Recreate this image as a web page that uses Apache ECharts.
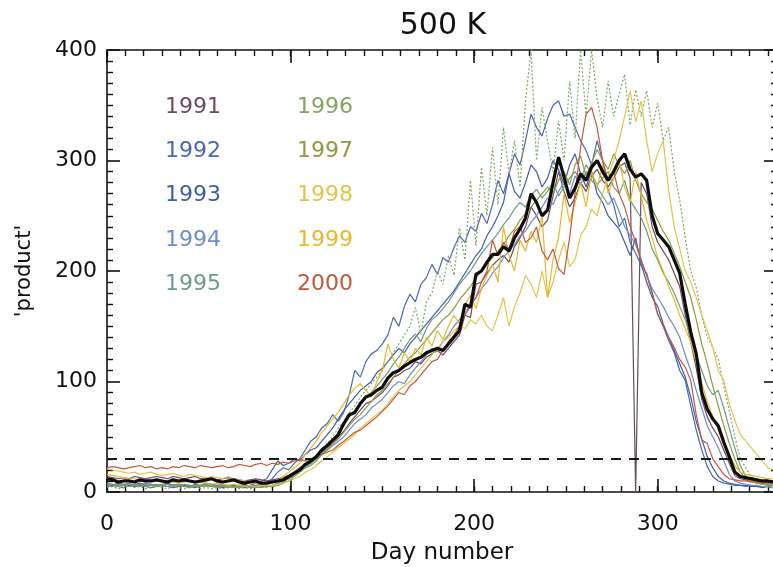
<!DOCTYPE html>
<html>
<head>
<meta charset="utf-8">
<script src="https://cdn.jsdelivr.net/npm/echarts@6/dist/echarts.min.js"></script>
<style>
  html, body { margin: 0; padding: 0; background: #ffffff; }
  #chart { width: 773px; height: 567px; }
</style>
</head>
<body>
<div id="chart"></div>
<script>
// Daily product at the 500 K level, one curve per year, sampled every 3 days (day 0 .. 363)
const years = ['1991', '1992', '1993', '1994', '1995', '1996', '1997', '1998', '1999', '2000'];
const yearColors = ['#6e4a5e', '#4a67b0', '#3d5ea8', '#6f8dca', '#6e9c82',
                    '#7fa660', '#8c9c3e', '#e2c44c', '#e6b82a', '#c6573a'];
const dayStep = 3;

const v1991 = [
  14,13,12,13,12,14,13,12,13,14,
  13,12,14,13,12,13,14,12,13,12,
  11,12,13,12,11,10,11,12,11,10,
  11,12,13,15,18,22,24,27,30,36,
  40,44,50,55,62,68,74,80,82,86,
  90,96,104,106,110,112,118,116,122,125,
  128,124,130,136,142,160,158,188,190,198,
  205,210,214,208,222,230,240,258,250,240,
  246,268,290,272,258,266,280,272,286,292,
  282,276,284,294,298,284,0,280,270,240,
  226,218,210,198,186,160,136,112,84,68,
  58,50,38,26,15,12,11,10,10,9,
  9,8];
const v1992 = [
  7,6,8,7,6,7,8,6,7,6,
  7,8,6,7,6,5,7,6,8,7,
  6,7,6,5,6,7,5,6,7,8,
  12,18,22,20,26,30,38,46,50,58,
  62,70,64,72,88,110,104,118,125,128,
  134,142,158,150,168,179,172,188,194,206,
  197,212,208,221,232,226,240,236,252,243,
  260,282,270,288,306,296,318,342,330,322,
  338,350,354,340,342,330,318,309,296,318,
  300,273,260,240,248,226,216,205,198,180,
  161,150,137,126,110,101,78,56,38,23,
  14,10,8,7,6,6,5,6,5,5,
  5,4];
const v1993 = [
  5,6,5,4,6,5,6,5,4,5,
  6,5,4,5,6,5,4,5,6,5,
  5,4,5,6,5,4,6,8,10,12,
  20,28,24,26,30,28,34,38,40,46,
  52,58,66,74,80,86,92,96,100,108,
  112,118,124,130,126,134,140,146,152,158,
  164,170,176,182,190,198,206,214,220,232,
  240,250,262,288,272,266,280,296,290,276,
  284,300,292,278,296,306,288,276,290,270,
  262,250,244,238,226,214,230,206,190,176,
  168,152,140,128,116,104,86,64,48,32,
  22,14,10,8,7,6,6,5,5,4,
  5,4];
const v1994 = [
  8,7,6,7,8,6,7,8,7,6,
  6,7,5,6,7,6,5,6,5,6,
  5,6,4,5,6,5,4,5,6,5,
  6,8,10,12,16,18,22,26,30,34,
  38,42,46,50,56,62,66,70,76,80,
  84,90,96,100,98,106,112,118,124,130,
  128,136,142,150,156,162,170,176,184,190,
  198,204,212,218,224,232,236,244,250,258,
  266,260,272,280,270,286,278,290,282,276,
  268,260,266,254,240,232,224,210,196,184,
  176,168,158,150,140,124,110,92,76,60,
  50,40,28,16,10,8,7,6,6,5,
  5,4];
const v1995 = [
  6,5,7,6,5,6,7,5,6,7,
  6,5,6,7,5,6,5,6,7,6,
  5,6,5,4,5,6,5,4,5,6,
  5,6,8,10,14,18,22,24,28,34,
  40,46,54,60,68,74,80,86,90,96,
  102,108,116,122,130,138,143,136,148,156,
  160,166,172,180,188,194,200,208,216,222,
  228,234,242,248,256,262,258,268,274,266,
  272,280,268,276,284,290,282,296,288,278,
  284,290,276,270,282,264,256,248,236,220,
  210,198,190,180,168,156,140,124,110,96,
  88,92,76,58,40,24,14,10,8,7,
  6,6];
const v1996 = [
  4,5,3,4,6,4,5,3,4,5,
  4,3,5,4,3,4,5,3,4,3,
  4,3,4,5,3,4,3,4,5,4,
  5,6,9,12,14,18,22,26,30,36,
  44,50,58,64,72,78,86,92,98,104,
  110,118,126,134,142,150,167,143,172,180,
  200,188,214,196,239,210,282,223,294,250,
  312,260,330,288,318,276,354,400,300,348,
  318,290,336,300,372,320,400,340,400,356,
  330,372,340,360,378,332,364,340,363,330,
  352,318,330,290,264,230,200,185,160,140,
  131,120,96,74,50,30,22,14,10,8,
  7,6];
const v1997 = [
  6,7,5,6,7,6,5,7,6,5,
  6,5,7,6,5,4,6,5,6,5,
  4,5,6,5,4,5,6,5,4,5,
  6,7,9,12,15,20,24,26,30,34,
  38,44,48,54,60,66,70,76,82,88,
  92,98,104,110,116,122,126,132,138,144,
  150,156,160,166,174,180,186,194,200,206,
  212,218,224,232,238,246,252,258,264,270,
  276,270,282,290,278,296,304,286,298,310,
  300,292,306,296,288,300,282,270,262,256,
  246,236,228,216,204,190,176,156,134,116,
  96,78,60,44,30,18,12,10,8,7,
  7,6];
const v1998 = [
  21,20,19,18,17,18,16,17,18,16,
  15,16,17,15,14,16,15,14,13,14,
  13,12,14,12,11,10,9,8,7,6,
  6,7,8,10,12,14,18,20,24,28,
  32,36,40,44,48,52,58,62,66,70,
  74,80,86,92,96,100,106,112,118,124,
  130,136,140,146,150,148,156,152,160,150,
  146,160,176,150,168,180,196,188,176,200,
  176,190,210,226,204,210,232,240,256,250,
  270,286,300,318,340,363,335,354,318,290,
  306,318,273,240,220,200,190,176,160,146,
  131,110,101,80,65,52,46,40,34,28,
  22,20];
const v1999 = [
  16,15,14,13,12,12,11,10,11,10,
  9,10,9,8,9,10,8,9,8,7,
  8,7,6,7,6,5,6,5,6,7,
  8,10,14,18,22,26,34,40,46,54,
  60,66,72,80,88,94,98,92,86,100,
  110,134,120,112,126,118,130,124,140,132,
  146,138,150,160,152,170,178,166,184,196,
  206,190,240,214,200,228,218,236,226,250,
  176,210,230,270,244,262,280,258,290,276,
  296,270,284,300,276,262,290,268,246,230,
  212,200,186,174,160,148,136,118,98,82,
  68,56,46,34,24,18,16,15,14,13,
  12,12];
const v2000 = [
  22,23,22,21,22,23,24,22,23,21,
  22,21,23,22,24,23,22,24,23,22,
  23,24,22,23,25,24,23,25,26,24,
  26,25,27,26,28,30,28,30,32,34,
  36,38,42,46,50,54,56,60,64,68,
  73,78,84,90,88,96,100,106,112,118,
  120,128,136,142,150,160,168,176,190,200,
  228,214,226,220,236,240,226,230,240,218,
  210,220,202,197,230,270,312,342,348,330,
  300,282,290,270,258,240,226,210,196,180,
  161,150,140,131,120,113,101,70,47,44,
  30,23,16,12,11,10,10,9,9,8,
  8,8];

// Ten-year mean (heavy black curve)
const meanProduct = [
  12,11,9,10,10,9,11,10,10,11,
  10,9,11,10,11,10,9,10,11,12,
  10,9,10,11,9,8,9,10,8,8,
  9,10,11,14,17,20,25,28,32,38,
  42,47,52,62,70,72,80,86,88,92,
  95,103,108,110,114,117,120,122,126,128,
  130,128,134,140,146,170,167,197,200,208,
  215,215,222,218,230,238,248,270,262,250,
  255,280,303,285,266,275,288,282,294,300,
  290,282,290,300,306,292,285,288,282,250,
  234,228,222,210,198,170,145,125,90,75,
  66,60,45,32,18,14,13,12,11,10,
  10,9];

const yearValues = [v1991, v1992, v1993, v1994, v1995, v1996, v1997, v1998, v1999, v2000];
const dottedYears = ['1996'];
const thresholdLevel = 30;
const xTickValues = [0, 100, 200, 300];

const FONT = '"DejaVu Sans", sans-serif';
const INK = '#111111';

const days = meanProduct.map((_, i) => i * dayStep);
const toPairs = vals => vals.map((v, i) => [days[i], v]);

const chart = echarts.init(document.getElementById('chart'), null, { renderer: 'canvas' });

const yearSeries = years.map((y, i) => ({
  type: 'line',
  name: y,
  data: toPairs(yearValues[i]),
  showSymbol: false,
  symbol: 'none',
  silent: true,
  animation: false,
  z: 2,
  lineStyle: {
    color: yearColors[i],
    width: 1.2,
    type: dottedYears.includes(y) ? [2, 2] : 'solid'
  }
}));

const meanSeries = {
  type: 'line',
  name: 'mean',
  data: toPairs(meanProduct),
  showSymbol: false,
  symbol: 'none',
  silent: true,
  animation: false,
  z: 5,
  lineStyle: { color: '#0d0d0d', width: 3.2 },
  markLine: {
    silent: true,
    symbol: 'none',
    animation: false,
    label: { show: false },
    lineStyle: { color: '#1a1a1a', width: 2, type: [10, 8] },
    data: [{ yAxis: thresholdLevel }]
  }
};

const xMajor = (pos, showLabels) => ({
  type: 'value', min: 0, max: 365, interval: 100, position: pos,
  axisLine: { show: true, onZero: false, lineStyle: { color: INK, width: 1.6 } },
  axisTick: { show: true, inside: true, length: 13, lineStyle: { color: INK, width: 1.6 } },
  axisLabel: {
    show: showLabels, margin: 21, hideOverlap: false,
    fontFamily: FONT, fontSize: 22, color: INK,
    formatter: v => (xTickValues.includes(v) ? String(v) : '')
  },
  splitLine: { show: false },
  name: showLabels ? 'Day number' : '',
  nameLocation: 'middle', nameGap: 50,
  nameTextStyle: { fontFamily: FONT, fontSize: 23, color: INK }
});
const xMinor = pos => ({
  type: 'value', min: 0, max: 365, interval: 10, position: pos,
  axisLine: { show: false, onZero: false },
  axisTick: { show: true, inside: true, length: 6, lineStyle: { color: INK, width: 1.4 } },
  axisLabel: { show: false },
  splitLine: { show: false }
});
const yAxisDef = (pos, showLabels) => ({
  type: 'value', min: 0, max: 400, interval: 100, position: pos,
  axisLine: { show: true, onZero: false, lineStyle: { color: INK, width: 1.6 } },
  axisTick: { show: true, inside: true, length: 13, lineStyle: { color: INK, width: 1.6 } },
  minorTick: { show: true, splitNumber: 10, length: 6, lineStyle: { color: INK, width: 1.4 } },
  axisLabel: { show: showLabels, margin: 10, fontFamily: FONT, fontSize: 22, color: INK },
  splitLine: { show: false },
  minorSplitLine: { show: false },
  name: showLabels ? "'product'" : '',
  nameLocation: 'middle', nameRotate: 90, nameGap: 72,
  nameTextStyle: { fontFamily: FONT, fontSize: 21, color: INK }
});

// Year key: two columns of coloured labels inside the plot
const keyGraphics = years.map((y, i) => ({
  type: 'text',
  x: i < 5 ? 165 : 297,
  y: [107, 151, 195, 240, 284][i % 5],
  silent: true,
  style: {
    text: y, fill: yearColors[i],
    font: '22px ' + FONT,
    textAlign: 'left', textVerticalAlign: 'middle'
  }
}));

chart.setOption({
  backgroundColor: '#ffffff',
  animation: false,
  grid: { left: 107, right: -4, top: 50, bottom: 75, outerBoundsMode: 'none', containLabel: false },
  xAxis: [xMajor('bottom', true), xMinor('bottom'), xMajor('top', false), xMinor('top')],
  yAxis: [yAxisDef('left', true), yAxisDef('right', false)],
  graphic: [
    {
      type: 'text', x: 443, y: 26, silent: true,
      style: { text: '500 K', font: '30px ' + FONT, fill: INK, textAlign: 'center', textVerticalAlign: 'middle' }
    }
  ].concat(keyGraphics),
  series: yearSeries.concat([meanSeries])
});
</script>
</body>
</html>
